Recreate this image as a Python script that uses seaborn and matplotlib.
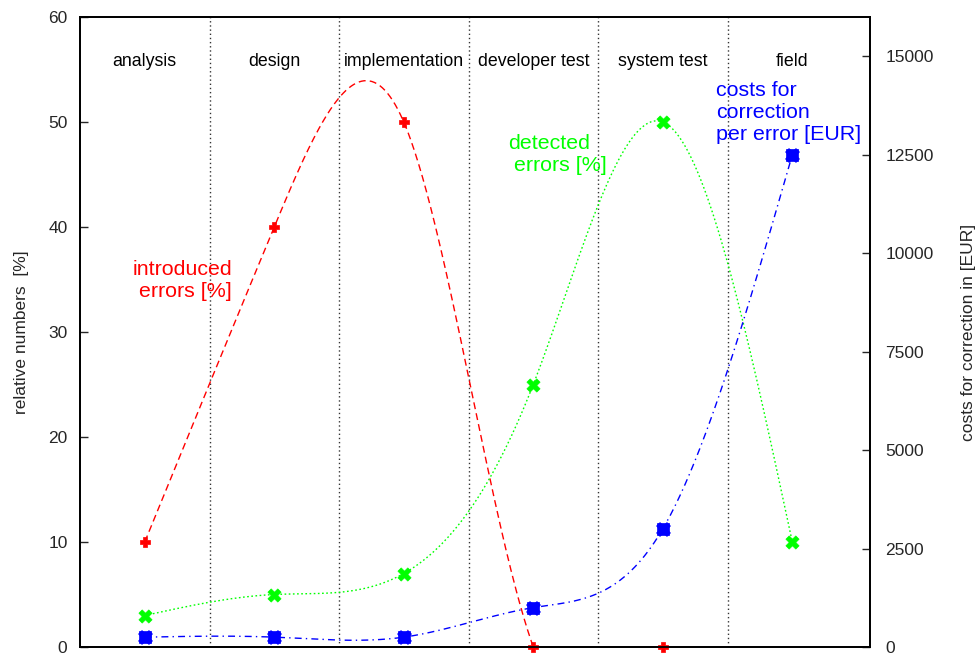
import numpy as np
import pandas as pd
import matplotlib
matplotlib.use("Agg")
import matplotlib.pyplot as plt
import seaborn as sns

# Development phases and measured values per phase
phases = ["analysis", "design", "implementation", "developer test", "system test", "field"]
introduced_errors = [10, 40, 50, 0, 0]            # % of errors introduced (first five phases)
detected_errors = [3, 5, 7, 25, 50, 10]            # % of errors detected
correction_costs = [250, 250, 250, 1000, 3000, 12500]  # EUR per error

left_ticks = [0, 10, 20, 30, 40, 50, 60]
right_ticks = [0, 2500, 5000, 7500, 10000, 12500, 15000]

RED, GREEN, BLUE = "#ff0000", "#00ff00", "#0000ff"


def natural_spline(x, y, n=400):
    """Natural cubic spline through (x, y), sampled on n points."""
    x = np.asarray(x, float)
    y = np.asarray(y, float)
    k = len(x)
    h = np.diff(x)
    A = np.zeros((k, k))
    r = np.zeros(k)
    A[0, 0] = A[-1, -1] = 1.0
    for i in range(1, k - 1):
        A[i, i - 1] = h[i - 1]
        A[i, i] = 2 * (h[i - 1] + h[i])
        A[i, i + 1] = h[i]
        r[i] = 6 * ((y[i + 1] - y[i]) / h[i] - (y[i] - y[i - 1]) / h[i - 1])
    M = np.linalg.solve(A, r)
    xs = np.linspace(x[0], x[-1], n)
    idx = np.clip(np.searchsorted(x, xs) - 1, 0, k - 2)
    hi = h[idx]
    a = (x[idx + 1] - xs) / hi
    b = (xs - x[idx]) / hi
    ys = a * y[idx] + b * y[idx + 1] + ((a ** 3 - a) * M[idx] + (b ** 3 - b) * M[idx + 1]) * hi ** 2 / 6
    return xs, ys


sns.set_style("white")
plt.rcParams["font.family"] = ["Liberation Sans", "DejaVu Sans"]

fig = plt.figure(figsize=(9.75, 6.57), dpi=100)
ax = fig.add_axes([80 / 975, 10 / 657, 790 / 975, 630 / 657])
ax2 = ax.twinx()

pos = np.arange(len(phases)) + 0.5

# phase separators
for xv in range(1, len(phases)):
    ax.axvline(xv, color="#333333", lw=1.0, ls=(0, (1, 2)), zorder=1)

# phase names
for p, name in zip(pos, phases):
    ax.text(p, 55.8, name, ha="center", va="center", fontsize=12.8, color="black")

# introduced errors
xr = pos[:len(introduced_errors)]
sx, sy = natural_spline(xr, introduced_errors)
sns.lineplot(x=sx, y=sy, ax=ax, color=RED, lw=1.0, sort=False, zorder=3)
ax.lines[-1].set_dashes([5, 3])
sns.scatterplot(x=xr, y=introduced_errors, ax=ax, marker="P", s=55, color=RED,
                edgecolor=RED, linewidth=0.5, zorder=5, clip_on=False)

# detected errors
sx, sy = natural_spline(pos, detected_errors)
sns.lineplot(x=sx, y=sy, ax=ax, color=GREEN, lw=1.0, sort=False, zorder=3)
ax.lines[-1].set_dashes([1.2, 1.8])
sns.scatterplot(x=pos, y=detected_errors, ax=ax, marker="X", s=90, color=GREEN,
                edgecolor=GREEN, linewidth=0.5, zorder=5, clip_on=False)

# correction costs (right axis)
sx, sy = natural_spline(pos, correction_costs)
sns.lineplot(x=sx, y=sy, ax=ax2, color=BLUE, lw=1.0, sort=False, zorder=3)
ax2.lines[-1].set_dashes([5, 3, 1, 3])
sns.scatterplot(x=pos, y=correction_costs, ax=ax2, marker="s", s=70, color=BLUE,
                edgecolor=BLUE, linewidth=0.5, zorder=5, clip_on=False)
sns.scatterplot(x=pos, y=correction_costs, ax=ax2, marker="X", s=100, color=BLUE,
                edgecolor=BLUE, linewidth=0.5, zorder=5, clip_on=False)

# series annotations
ax.text(1.174, 34.9, "introduced\nerrors [%]", ha="right", va="center",
        fontsize=15.4, color=RED, linespacing=1.2)
ax.text(3.305, 46.9, "detected\n errors [%]", ha="left", va="center",
        fontsize=15.4, color=GREEN, linespacing=1.2)
ax.text(4.91, 50.9, "costs for\ncorrection\nper error [EUR]", ha="left", va="center",
        fontsize=15.4, color=BLUE, linespacing=1.2)

# axes limits and ticks
ax.set_xlim(0, 6.1)
ax.set_ylim(0, 60)
ax2.set_ylim(0, 16000)
ax.set_xticks([])
ax.set_yticks(left_ticks)
ax2.set_yticks(right_ticks)
ax.set_yticklabels([str(t) for t in left_ticks])
ax2.set_yticklabels([str(t) for t in right_ticks])
ax.tick_params(axis="y", direction="in", length=6, width=1, pad=9, labelsize=12.5, left=True)
ax2.tick_params(axis="y", direction="in", length=6, width=1, pad=11, labelsize=12.5, right=True)

for a in (ax, ax2):
    for s in a.spines.values():
        s.set_visible(True)
        s.set_color("black")
        s.set_linewidth(1.3)

ax.set_ylabel("relative numbers  [%]", fontsize=12.5, labelpad=14)
ax2.set_ylabel("costs for correction in [EUR]", fontsize=12.5, labelpad=20)
ax.set_xlabel("")

fig.savefig("out.png", dpi=100)
